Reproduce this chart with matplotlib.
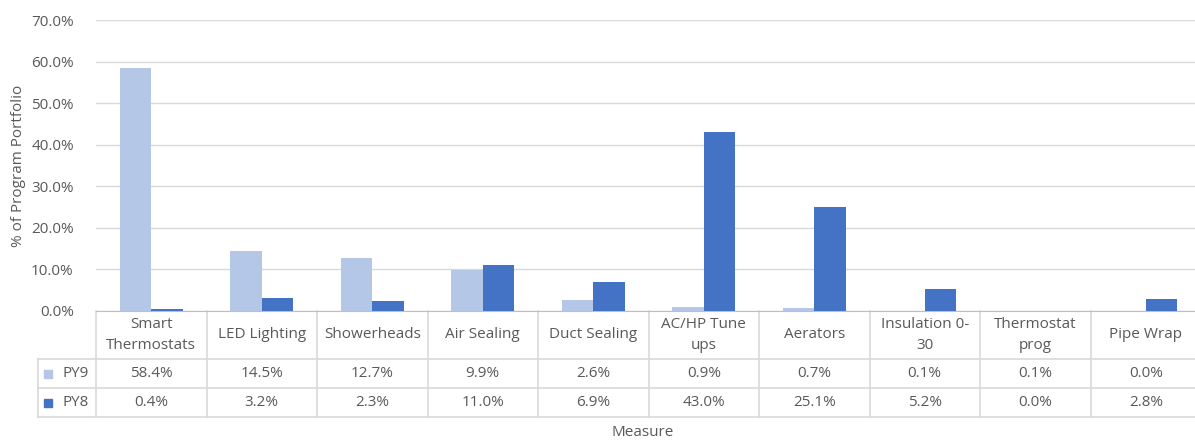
import matplotlib.pyplot as plt
import matplotlib.transforms as mtransforms

categories = ["Smart\nThermostats", "LED Lighting", "Showerheads", "Air Sealing",
              "Duct Sealing", "AC/HP Tune\nups", "Aerators", "Insulation 0-\n30",
              "Thermostat\nprog", "Pipe Wrap"]
py9 = [58.4, 14.5, 12.7, 9.9, 2.6, 0.9, 0.7, 0.1, 0.1, 0.0]
py8 = [0.4, 3.2, 2.3, 11.0, 6.9, 43.0, 25.1, 5.2, 0.0, 2.8]
series_names = ["PY9", "PY8"]
colors = ["#B4C7E7", "#4472C4"]

plt.rcParams['font.family'] = ['Open Sans', 'DejaVu Sans']
txt = "#595959"
grid = "#D9D9D9"
fs = 11

W, H = 1195, 442
fig = plt.figure(figsize=(W / 100, H / 100), dpi=100)


def fy(p):
    return (H - p) / H


def fx(p):
    return p / W


left, right, top, base = 96, 1201, 20, 311
ax = fig.add_axes([fx(left), fy(base), fx(right - left), fy(top) - fy(base)])

n = len(categories)
bw = 1 / 3.5
xs = list(range(n))
ax.bar([x - bw / 2 for x in xs], py9, bw, color=colors[0], zorder=3)
ax.bar([x + bw / 2 for x in xs], py8, bw, color=colors[1], zorder=3)

ax.set_xlim(-0.5, n - 0.5)
ax.set_ylim(0, 70)
ax.set_yticks(range(0, 71, 10))
ax.set_yticklabels([f"{v:.1f}%" for v in range(0, 71, 10)], color=txt, fontsize=fs)
ax.tick_params(axis='y', length=0, pad=16)
ax.set_xticks([])
ax.grid(axis='y', color=grid, linewidth=1, zorder=0)
for s in ["top", "right", "left"]:
    ax.spines[s].set_visible(False)
ax.spines["bottom"].set_color("#BFBFBF")
ax.set_ylabel("% of Program Portfolio", color=txt, fontsize=fs, labelpad=4)

# data table below the axis
tr = mtransforms.blended_transform_factory(ax.transData, fig.transFigure)
rows_y = [311, 359, 388, 417]
key_left = 38
lc = "#D9D9D9"
x_edges = [i - 0.5 for i in range(n + 1)]
for xe in x_edges:
    ax.plot([xe, xe], [fy(rows_y[0]), fy(rows_y[-1])], transform=tr,
            color=lc, lw=1.2, clip_on=False)
xkey = -0.5 - (left - key_left) / ((right - left) / n)
for yy in rows_y[1:]:
    ax.plot([xkey, n - 0.5], [fy(yy), fy(yy)], transform=tr,
            color=lc, lw=1.2, clip_on=False)
ax.plot([xkey, xkey], [fy(rows_y[1]), fy(rows_y[-1])], transform=tr,
        color=lc, lw=1.2, clip_on=False)

for i, c in enumerate(categories):
    ax.text(i, fy((rows_y[0] + rows_y[1]) / 2), c, transform=tr, ha='center',
            va='center', fontsize=fs, color=txt, linespacing=1.5)

for r, (name, vals) in enumerate(zip(series_names, [py9, py8])):
    yc = fy((rows_y[r + 1] + rows_y[r + 2]) / 2)
    for i, v in enumerate(vals):
        ax.text(i, yc, f"{v:.1f}%", transform=tr, ha='center', va='center',
                fontsize=fs, color=txt)
    fig.patches.append(plt.Rectangle((fx(44), yc - 4 / H), 8 / W, 8 / H,
                                     transform=fig.transFigure, color=colors[r]))
    fig.text(fx(63), yc, name, ha='left', va='center', fontsize=fs, color=txt)

fig.text(fx(643), fy(432), "Measure", ha='center', va='center', fontsize=fs, color=txt)

fig.savefig("out.png", dpi=100)
